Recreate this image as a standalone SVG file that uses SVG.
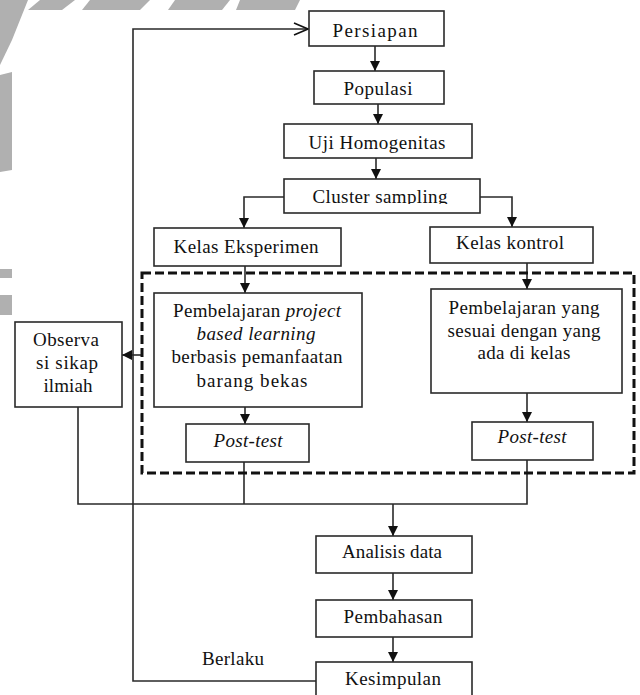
<svg xmlns="http://www.w3.org/2000/svg" width="640" height="695" viewBox="0 0 640 695">
<style>
  .box { fill: #ffffff; stroke: #2a2a2a; stroke-width: 1.6; }
  .t { font-family: "Liberation Serif", "Times New Roman", serif; font-size: 19px; fill: #111; text-anchor: middle; }
  .it { font-style: italic; }
  .ln { fill: none; stroke: #2a2a2a; stroke-width: 1.6; }
  .wm { fill: #b0b0b0; }
</style>
<defs>
  <marker id="ah" markerUnits="userSpaceOnUse" markerWidth="12" markerHeight="12" viewBox="0 0 12 12" refX="11" refY="6" orient="auto">
    <path d="M1,1 L11,6 L1,11 Z" fill="#111"/>
  </marker>
  <marker id="open" markerUnits="userSpaceOnUse" markerWidth="16" markerHeight="14" viewBox="0 0 16 14" refX="15" refY="7" orient="auto">
    <path d="M1,1 L15,7 L1,13" fill="none" stroke="#111" stroke-width="1.6"/>
  </marker>
  <clipPath id="clipCS"><rect x="284" y="179" width="196" height="25"/></clipPath>
</defs>

<!-- watermark fragments -->
<g id="watermark">
  <polygon class="wm" points="0,0 28,0 12,40 0,65"/>
  <polygon class="wm" points="40,0 75,0 62,10 28,10"/>
  <polygon class="wm" points="90,0 150,0 140,10 82,10"/>
  <polygon class="wm" points="175,0 230,0 222,10 168,10"/>
  <polygon class="wm" points="240,0 300,0 295,10 236,10"/>
  <polygon class="wm" points="0,75 12,72 12,170 0,172"/>
  <rect class="wm" x="0" y="269" width="12" height="9"/>
  <rect class="wm" x="0" y="295" width="12" height="20"/>
</g>

<!-- connectors -->
<g id="connectors">
  <path class="ln" d="M316,681 H133 V29 H308" marker-end="url(#open)"/>
  <path class="ln" d="M375,46 V71" marker-end="url(#ah)"/>
  <path class="ln" d="M378,104 V124" marker-end="url(#ah)"/>
  <path class="ln" d="M376,158 V179" marker-end="url(#ah)"/>
  <path class="ln" d="M284,197 H244 V228" marker-end="url(#ah)"/>
  <path class="ln" d="M480,197 H512 V227" marker-end="url(#ah)"/>
  <path class="ln" d="M245,266 V293" marker-end="url(#ah)"/>
  <path class="ln" d="M527,263 V289" marker-end="url(#ah)"/>
  <path class="ln" d="M245,407 V424" marker-end="url(#ah)"/>
  <path class="ln" d="M527,393 V422" marker-end="url(#ah)"/>
  <path class="ln" d="M142,355 H122" marker-end="url(#ah)"/>
  <path class="ln" d="M78,407 V504 H527 V460"/>
  <path class="ln" d="M244,462 V504"/>
  <path class="ln" d="M393,504 V536" marker-end="url(#ah)"/>
  <path class="ln" d="M393,573 V600" marker-end="url(#ah)"/>
  <path class="ln" d="M393,637 V662" marker-end="url(#ah)"/>
  <rect x="142" y="273" width="492" height="200" fill="none" stroke="#111" stroke-width="3" stroke-dasharray="9 4"/>
</g>

<g id="persiapan">
  <rect class="box" x="309" y="11" width="135" height="35"/>
  <text class="t" x="375" y="37" textLength="85" lengthAdjust="spacing">Persiapan</text>
</g>
<g id="populasi">
  <rect class="box" x="314" y="71" width="130" height="33"/>
  <text class="t" x="378" y="95" textLength="69" lengthAdjust="spacing">Populasi</text>
</g>
<g id="uji">
  <rect class="box" x="284" y="124" width="188" height="34"/>
  <text class="t" x="377" y="149" textLength="137" lengthAdjust="spacing">Uji Homogenitas</text>
</g>
<g id="cluster">
  <rect class="box" x="284" y="179" width="196" height="34"/>
  <text class="t" x="380" y="203" textLength="135" lengthAdjust="spacing" clip-path="url(#clipCS)">Cluster sampling</text>
</g>
<g id="eksperimen">
  <rect class="box" x="154" y="228" width="187" height="38"/>
  <text class="t" x="246" y="253" textLength="145" lengthAdjust="spacing">Kelas Eksperimen</text>
</g>
<g id="kontrol">
  <rect class="box" x="430" y="227" width="163" height="36"/>
  <text class="t" x="510" y="249" textLength="108" lengthAdjust="spacing">Kelas kontrol</text>
</g>
<g id="pjbl">
  <rect class="box" x="154" y="293" width="208" height="114"/>
  <text class="t" x="257" y="317" textLength="168" lengthAdjust="spacing">Pembelajaran <tspan class="it">project</tspan></text>
  <text class="t it" x="256" y="340" textLength="119" lengthAdjust="spacing">based learning</text>
  <text class="t" x="257" y="363" textLength="171" lengthAdjust="spacing">berbasis pemanfaatan</text>
  <text class="t" x="252" y="387" textLength="111" lengthAdjust="spacing">barang bekas</text>
</g>
<g id="konvensional">
  <rect class="box" x="431" y="289" width="191" height="104"/>
  <text class="t" x="524" y="314" textLength="151" lengthAdjust="spacing">Pembelajaran yang</text>
  <text class="t" x="524" y="337" textLength="153" lengthAdjust="spacing">sesuai dengan yang</text>
  <text class="t" x="524" y="359" textLength="93" lengthAdjust="spacing">ada di kelas</text>
</g>
<g id="observasi">
  <rect class="box" x="15" y="322" width="107" height="85"/>
  <text class="t" x="66" y="346" textLength="66" lengthAdjust="spacing">Observa</text>
  <text class="t" x="67" y="369" textLength="62" lengthAdjust="spacing">si sikap</text>
  <text class="t" x="68" y="392" textLength="49" lengthAdjust="spacing">ilmiah</text>
</g>
<g id="posttest1">
  <rect class="box" x="186" y="424" width="123" height="38"/>
  <text class="t it" x="248" y="447" textLength="69" lengthAdjust="spacing">Post-test</text>
</g>
<g id="posttest2">
  <rect class="box" x="472" y="422" width="121" height="38"/>
  <text class="t it" x="532" y="443" textLength="69" lengthAdjust="spacing">Post-test</text>
</g>
<g id="analisis">
  <rect class="box" x="316" y="536" width="156" height="37"/>
  <text class="t" x="392" y="558" textLength="100" lengthAdjust="spacing">Analisis data</text>
</g>
<g id="pembahasan">
  <rect class="box" x="316" y="600" width="156" height="37"/>
  <text class="t" x="393" y="623" textLength="99" lengthAdjust="spacing">Pembahasan</text>
</g>
<g id="kesimpulan">
  <rect class="box" x="316" y="662" width="156" height="36"/>
  <text class="t" x="393" y="685" textLength="96" lengthAdjust="spacing">Kesimpulan</text>
</g>
<g id="berlaku-label">
  <text class="t" x="233" y="665" textLength="62" lengthAdjust="spacing">Berlaku</text>
</g>
</svg>
